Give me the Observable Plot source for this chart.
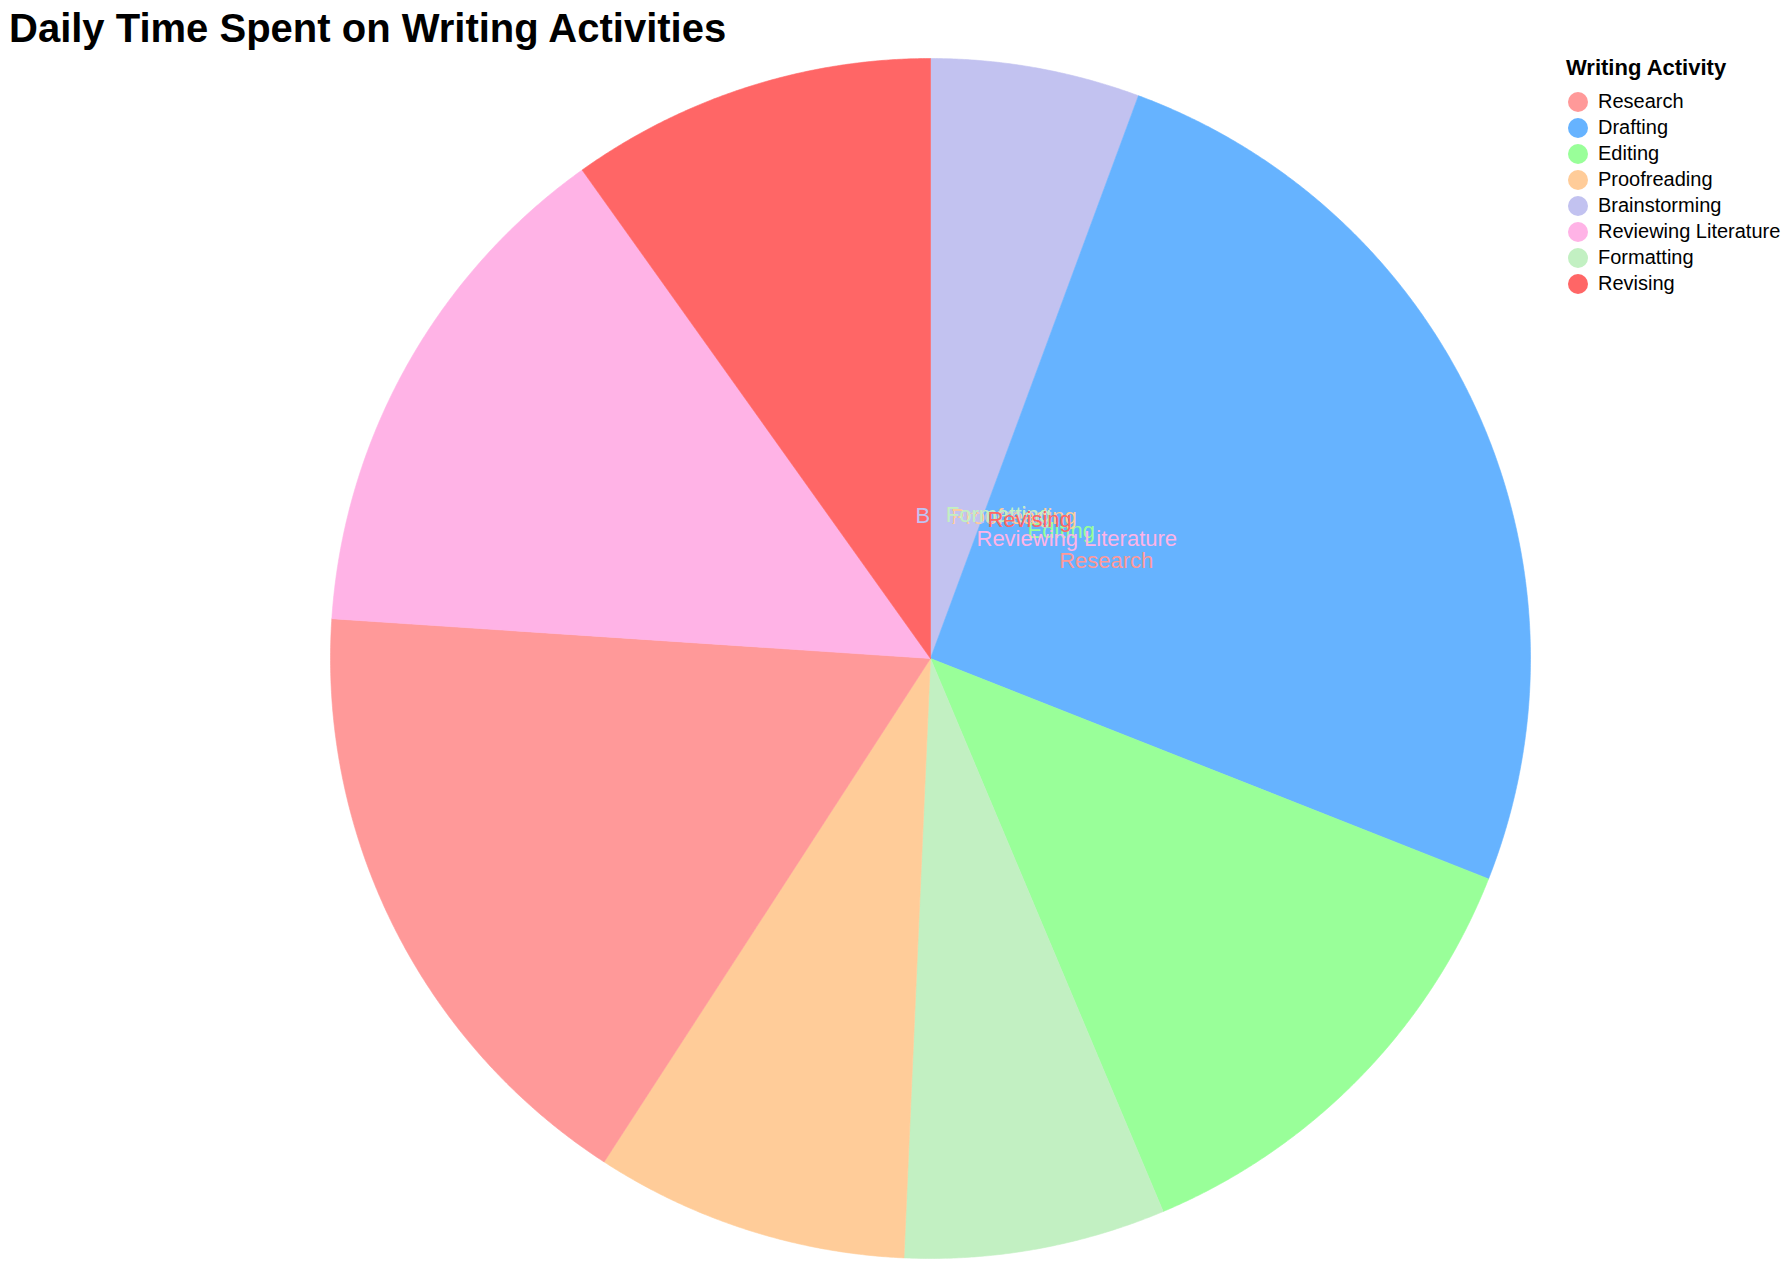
<!DOCTYPE html>
<html>
<head>
<meta charset="utf-8">
<script src="https://cdn.jsdelivr.net/npm/d3@7"></script>
<script src="https://cdn.jsdelivr.net/npm/@observablehq/plot@0.6"></script>
<style>
  html, body { margin: 0; padding: 0; background: #fff; }
  body { font-family: "Liberation Sans", Arial, Helvetica, sans-serif; }
  #page { position: relative; width: 1792px; height: 1268px; overflow: hidden; }
  #titleBlock { position: relative; height: 50px; }
  #title { position: absolute; left: 9px; top: 8px; font-size: 40px; line-height: 40px; font-weight: bold; color: #000; white-space: nowrap; }
  #legend { position: absolute; left: 1566px; top: 0; width: 226px; height: 300px; }
  #legend .ltitle { position: absolute; left: 0; top: 57px; font-size: 22px; line-height: 22px; font-weight: bold; white-space: nowrap; }
  #legend .sw { position: absolute; width: 20px; height: 20px; border-radius: 50%; }
  #legend .lab { position: absolute; font-size: 20px; line-height: 20px; white-space: nowrap; color: #000; }
  #chart svg { display: block; }
</style>
</head>
<body>
<div id="page">
  <div id="titleBlock"><div id="title">Daily Time Spent on Writing Activities</div></div>
  <div id="chart"></div>
  <div id="legend"><div class="ltitle">Writing Activity</div></div>
</div>
<script>
// ---- data ----
const activities = ["Research", "Drafting", "Editing", "Proofreading", "Brainstorming", "Reviewing Literature", "Formatting", "Revising"];
const minutes = [60, 90, 45, 30, 20, 50, 25, 35];
const colors = ["#ff9999", "#66b3ff", "#99ff99", "#ffcc99", "#c2c2f0", "#ffb3e6", "#c2f0c2", "#ff6666"];

const rows = activities.map((a, i) => ({activity: a, minutes: minutes[i]}));
const total = d3.sum(minutes);

// slices stacked clockwise from 12 o'clock, ordered by activity name
const sorted = rows.slice().sort((a, b) => d3.ascending(a.activity, b.activity));
const wedgePts = [];
let cum = 0;
for (const r of sorted) {
  const a0 = cum / total * 2 * Math.PI;
  cum += r.minutes;
  const a1 = cum / total * 2 * Math.PI;
  const n = Math.max(2, Math.ceil((a1 - a0) / (Math.PI / 720)));
  wedgePts.push({activity: r.activity, x: 0, y: 0});
  for (let k = 0; k <= n; k++) {
    const a = a0 + (a1 - a0) * k / n;
    wedgePts.push({activity: r.activity, x: Math.sin(a), y: Math.cos(a)});
  }
  wedgePts.push({activity: r.activity, x: 0, y: 0});
}

// labels: angle from value share (unstacked), radius from value
const labelRadius = d3.scaleLinear().domain([0, 100]).range([128 / 600, 250 / 600]);
const labels = rows.map(r => {
  const a = r.minutes / total * 2 * Math.PI;
  const rr = labelRadius(r.minutes);
  return {activity: r.activity, x: rr * Math.sin(a), y: rr * Math.cos(a)};
});

const chart = Plot.plot({
  width: 1792,
  height: 1218,
  marginLeft: 330,
  marginRight: 262,
  marginTop: 8,
  marginBottom: 10,
  x: {domain: [-1, 1], axis: null},
  y: {domain: [-1, 1], axis: null},
  color: {domain: activities, range: colors},
  style: {fontFamily: '"Liberation Sans", Arial, Helvetica, sans-serif', background: "white"},
  marks: [
    Plot.line(wedgePts, {x: "x", y: "y", z: "activity", fill: "activity", stroke: "activity", strokeWidth: 0.6, curve: "linear"}),
    Plot.text(labels, {x: "x", y: "y", text: "activity", fill: "activity", fontSize: 22, textAnchor: "middle", lineAnchor: "middle"})
  ]
});
document.getElementById("chart").appendChild(chart);

// legend
const legend = document.getElementById("legend");
activities.forEach((a, i) => {
  const cy = 102 + 26 * i;
  const sw = document.createElement("div");
  sw.className = "sw";
  sw.style.left = "2px";
  sw.style.top = (cy - 10) + "px";
  sw.style.background = colors[i];
  legend.appendChild(sw);
  const lab = document.createElement("div");
  lab.className = "lab";
  lab.style.left = "32px";
  lab.style.top = (cy - 11) + "px";
  lab.textContent = a;
  legend.appendChild(lab);
});
</script>
</body>
</html>
